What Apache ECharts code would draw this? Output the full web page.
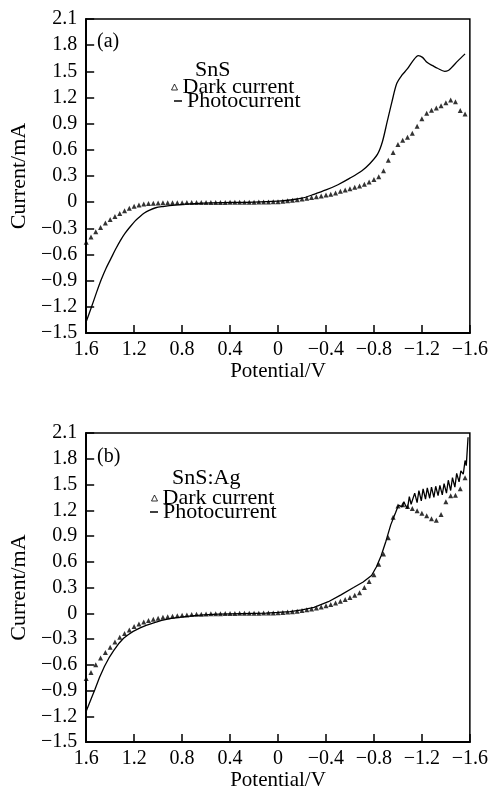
<!DOCTYPE html>
<html>
<head>
<meta charset="utf-8">
<script src="https://cdn.jsdelivr.net/npm/echarts@6/dist/echarts.min.js"></script>
<style>
html, body { margin: 0; padding: 0; background: #fff; }
#chart { width: 491px; height: 792px; }
</style>
</head>
<body>
<div id="chart"></div>
<script>
// potential of the dark current markers (V), shared by (a) and (b)
var darkV = [1.60, 1.56, 1.52, 1.48, 1.44, 1.40, 1.36, 1.32, 1.28, 1.24, 1.20, 1.16, 1.12, 1.08, 1.04, 1.00,
  0.96, 0.92, 0.88, 0.84, 0.80, 0.76, 0.72, 0.68, 0.64, 0.60, 0.56, 0.52, 0.48, 0.44, 0.40, 0.36, 0.32, 0.28,
  0.24, 0.20, 0.16, 0.12, 0.08, 0.04, 0, -0.04, -0.08, -0.12, -0.16, -0.20, -0.24, -0.28, -0.32, -0.36, -0.40,
  -0.44, -0.48, -0.52, -0.56, -0.60, -0.64, -0.68, -0.72, -0.76, -0.80, -0.84, -0.88, -0.92, -0.96, -1.00,
  -1.04, -1.08, -1.12, -1.16, -1.20, -1.24, -1.28, -1.32, -1.36, -1.40, -1.44, -1.48, -1.52, -1.56];

// (a) SnS
var darkA = [-0.46, -0.40, -0.34, -0.29, -0.24, -0.20, -0.165, -0.13, -0.097, -0.07, -0.048, -0.032, -0.022, -0.015,
  -0.011, -0.009, -0.008, -0.007, -0.007, -0.006, -0.006, -0.005, -0.005, -0.005, -0.004, -0.004, -0.004, -0.003,
  -0.003, -0.003, -0.002, -0.002, -0.001, -0.001, 0, 0, 0.001, 0.002, 0.003, 0.004, 0.006, 0.01, 0.015, 0.021,
  0.028, 0.036, 0.044, 0.053, 0.062, 0.072, 0.082, 0.092, 0.105, 0.125, 0.14, 0.155, 0.17, 0.185, 0.205, 0.23,
  0.26, 0.29, 0.36, 0.48, 0.57, 0.66, 0.71, 0.745, 0.79, 0.87, 0.955, 1.02, 1.055, 1.08, 1.105, 1.14, 1.17,
  1.15, 1.05, 1.01];
var photoAV = [1.60, 1.555, 1.515, 1.475, 1.435, 1.395, 1.355, 1.315, 1.275, 1.235, 1.195, 1.155, 1.115, 1.075,
  1.02, 0.96, 0.86, 0.74, 0.62, 0.40, 0.20, 0, -0.10, -0.20, -0.30, -0.40, -0.50, -0.60, -0.70, -0.765, -0.83,
  -0.87, -0.91, -0.95, -0.99, -1.03, -1.08, -1.125, -1.17, -1.205, -1.245, -1.29, -1.33, -1.39, -1.42, -1.445,
  -1.50, -1.56];
var photoA = [-1.37, -1.2, -1.04, -0.89, -0.76, -0.65, -0.54, -0.44, -0.355, -0.285, -0.22, -0.17, -0.125, -0.094,
  -0.064, -0.05, -0.033, -0.02, -0.01, -0.004, 0, 0.012, 0.025, 0.045, 0.09, 0.14, 0.2, 0.275, 0.36, 0.44, 0.55,
  0.69, 0.92, 1.15, 1.36, 1.45, 1.53, 1.62, 1.68, 1.66, 1.60, 1.565, 1.535, 1.50, 1.51, 1.54, 1.62, 1.70];

// (b) SnS:Ag
var darkB = [-0.76, -0.69, -0.60, -0.52, -0.455, -0.395, -0.335, -0.28, -0.235, -0.195, -0.155, -0.125, -0.10,
  -0.085, -0.07, -0.057, -0.047, -0.04, -0.034, -0.028, -0.023, -0.019, -0.015, -0.012, -0.01, -0.008, -0.006,
  -0.005, -0.004, -0.003, -0.002, -0.001, 0, 0, 0.001, 0.001, 0.002, 0.003, 0.004, 0.005, 0.007, 0.01, 0.014,
  0.019, 0.025, 0.032, 0.04, 0.05, 0.061, 0.073, 0.087, 0.103, 0.12, 0.14, 0.162, 0.185, 0.21, 0.24, 0.30, 0.37,
  0.45, 0.57, 0.69, 0.88, 1.12, 1.25, 1.265, 1.245, 1.22, 1.195, 1.165, 1.135, 1.10, 1.085, 1.15, 1.30, 1.37,
  1.375, 1.45, 1.58];
var photoBV = [1.60, 1.56, 1.528, 1.49, 1.448, 1.41, 1.368, 1.33, 1.288, 1.25, 1.208, 1.15, 1.10, 1.03, 0.97,
  0.89, 0.81, 0.72, 0.62, 0.50, 0.30, 0.10, 0, -0.10, -0.20, -0.30, -0.42, -0.525, -0.63, -0.71, -0.78, -0.82,
  -0.86, -0.90, -0.94, -0.98, -1.005, -1.02, -1.035, -1.05, -1.065, -1.08, -1.095, -1.11, -1.125, -1.14, -1.16,
  -1.175, -1.195, -1.21, -1.23, -1.245, -1.265, -1.28, -1.30, -1.315, -1.335, -1.35, -1.37, -1.385, -1.405,
  -1.42, -1.44, -1.455, -1.475, -1.49, -1.51, -1.525, -1.545, -1.56, -1.57, -1.585];
var photoB = [-1.14, -1.0, -0.89, -0.75, -0.62, -0.52, -0.43, -0.355, -0.29, -0.25, -0.21, -0.17, -0.14, -0.108,
  -0.083, -0.06, -0.045, -0.03, -0.018, -0.01, -0.003, 0.002, 0.01, 0.02, 0.04, 0.07, 0.135, 0.215, 0.30, 0.365,
  0.44, 0.54, 0.67, 0.84, 1.03, 1.17, 1.26, 1.28, 1.24, 1.30, 1.25, 1.22, 1.36, 1.27, 1.25, 1.40, 1.29, 1.43,
  1.31, 1.45, 1.33, 1.46, 1.34, 1.47, 1.35, 1.48, 1.37, 1.49, 1.38, 1.51, 1.40, 1.55, 1.43, 1.58, 1.47, 1.63,
  1.53, 1.66, 1.62, 1.78, 1.72, 2.05];

var font = "'Liberation Serif', 'Times New Roman', serif";
var txt = { fontFamily: font, fontSize: 20, color: '#000' };
var big = { fontFamily: font, fontSize: 22, color: '#000' };

function pairs(xs, ys) {
  var out = [];
  for (var i = 0; i < xs.length; i++) out.push([xs[i], ys[i]]);
  return out;
}

function fmt(v) {
  var r = Math.round(v * 10) / 10;
  if (r === 0) return '0';
  return (r < 0 ? '\u2212' : '') + Math.abs(r).toFixed(1);
}

function xAxisFor(i) {
  return {
    type: 'value', gridIndex: i, min: -1.6, max: 1.6, interval: 0.4, inverse: true,
    name: 'Potential/V', nameLocation: 'middle', nameGap: 27,
    nameTextStyle: { fontFamily: font, fontSize: 21, color: '#000' },
    axisLine: { onZero: false, lineStyle: { color: '#000', width: 2 } },
    axisTick: { inside: true, length: 8, lineStyle: { color: '#000', width: 1.5 } },
    axisLabel: { margin: 7, fontFamily: font, fontSize: 20, color: '#000', formatter: fmt },
    splitLine: { show: false }
  };
}

function yAxisFor(i) {
  return {
    type: 'value', gridIndex: i, min: -1.5, max: 2.1, interval: 0.3,
    name: 'Current/mA', nameLocation: 'middle', nameGap: 46, nameTextStyle: big,
    axisLine: { onZero: false, lineStyle: { color: '#000', width: 2 } },
    axisTick: { inside: true, length: 8, lineStyle: { color: '#000', width: 1.5 } },
    axisLabel: { margin: 9, fontFamily: font, fontSize: 20, color: '#000', formatter: fmt },
    splitLine: { show: false }
  };
}

function label(text, left, top, size) {
  return { text: text, left: left, top: top, padding: 0,
    textStyle: { fontFamily: font, fontSize: size, fontWeight: 'normal', color: '#000' } };
}

function darkLegend(left, top) {
  return { data: [{ name: 'Dark current', icon: 'triangle' }], left: left, top: top, padding: 0,
    itemWidth: 6, itemHeight: 6, selectedMode: false, textStyle: big,
    itemStyle: { color: '#fff', borderColor: '#000', borderWidth: 1 } };
}

function photoLegend(left, top) {
  return { data: [{ name: 'Photocurrent', icon: 'rect' }], left: left, top: top, padding: 0,
    itemWidth: 8, itemHeight: 1.5, selectedMode: false, textStyle: big,
    itemStyle: { color: '#000', borderWidth: 0 } };
}

var chart = echarts.init(document.getElementById('chart'));

var option = {
  animation: false,
  backgroundColor: '#fff',
  title: [label('(a)', 97, 32, 20), label('SnS', 195, 59, 22), label('(b)', 97, 447, 20), label('SnS:Ag', 172, 467, 22)],
  legend: [darkLegend(171, 76), photoLegend(174, 90), darkLegend(151, 487), photoLegend(150, 501)],
  grid: [
    { left: 77, top: 19, right: 14, height: 314, show: true, borderColor: '#000', borderWidth: 1.5 },
    { left: 77, top: 433, right: 14, height: 313, show: true, borderColor: '#000', borderWidth: 1.5 }
  ],
  xAxis: [xAxisFor(0), xAxisFor(1)],
  yAxis: [yAxisFor(0), yAxisFor(1)],
  series: [
    { name: 'Dark current', type: 'scatter', xAxisIndex: 0, yAxisIndex: 0, symbol: 'triangle', symbolSize: 5,
      itemStyle: { color: '#000' }, data: pairs(darkV, darkA) },
    { name: 'Photocurrent', type: 'line', xAxisIndex: 0, yAxisIndex: 0, showSymbol: false, smooth: 0.3,
      itemStyle: { color: '#000' }, lineStyle: { color: '#000', width: 1.3 }, data: pairs(photoAV, photoA) },
    { name: 'Dark current', type: 'scatter', xAxisIndex: 1, yAxisIndex: 1, symbol: 'triangle', symbolSize: 5,
      itemStyle: { color: '#000' }, data: pairs(darkV, darkB) },
    { name: 'Photocurrent', type: 'line', xAxisIndex: 1, yAxisIndex: 1, showSymbol: false,
      itemStyle: { color: '#000' }, lineStyle: { color: '#000', width: 1.3 }, data: pairs(photoBV, photoB) }
  ]
};

chart.setOption(option);
</script>
</body>
</html>
